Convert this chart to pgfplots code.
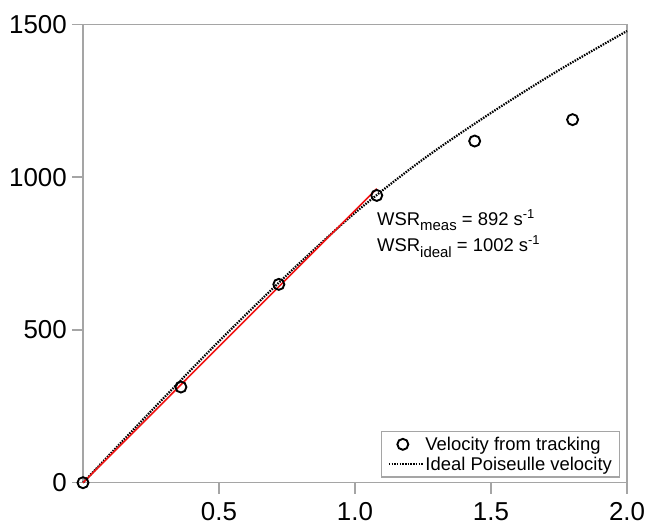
\documentclass[border=0pt]{standalone}
\usepackage{fontspec}
\setmainfont{Liberation Sans}
\usepackage{pgfplots}
\pgfplotsset{compat=1.18}
\definecolor{axgray}{RGB}{165,165,165}
\definecolor{fitred}{RGB}{240,20,20}
\newcommand{\lowtxt}[1]{\raisebox{-5.5bp}{\fontsize{15}{15}\selectfont #1}}
\newcommand{\hightxt}[1]{\raisebox{7bp}{\fontsize{13}{13}\selectfont #1}}
\pgfplotsset{
  ideal/.style={black, line width=2.2bp, dash pattern=on 1.5bp off 1.2bp,
    legend image code/.code={\draw[##1] (0bp,0bp) -- (34bp,0bp);}},
  trackmarks/.style={only marks, mark=o, mark size=5.5bp, black, line width=1.9bp,
    legend image code/.code={\path[draw=none] (0bp,0bp) -- (34bp,0bp); \path[draw=black, line width=1.9bp, solid] (14bp,0bp) circle (5.5bp);}},
}

\begin{document}
\begin{tikzpicture}
\begin{axis}[
  scale only axis, width=544bp, height=458.4bp,
  xmin=0, xmax=2.0, ymin=0, ymax=1500,
  xtick={0.5,1.0,1.5,2.0}, xticklabels={0.5,1.0,1.5,2.0},
  ytick={0,500,1000,1500},
  axis line style={axgray, line width=1.5bp},
  every tick/.style={axgray, line width=1.5bp},
  tick align=outside, major tick length=11bp,
  xtick pos=bottom, ytick pos=left,
  /pgf/number format/assume math mode=true,
  /pgf/number format/1000 sep={},
  tick label style={font=\fontsize{26}{30}\selectfont, black},
  yticklabel style={inner sep=0pt, xshift=-5bp},
  xticklabel style={inner sep=0pt, yshift=-9bp},
  clip=false,
  legend cell align=left,
  legend style={at={(1,0)}, anchor=south east, xshift=-7bp, yshift=5bp,
    draw=axgray, line width=1.2bp, font=\fontsize{18.5}{22}\selectfont,
    inner xsep=6bp, inner ysep=4bp, row sep=2bp, nodes={inner sep=1.5bp}},
]
\addplot[ideal, smooth, forget plot]
  coordinates {(0,0) (0.25,234) (0.5,463) (0.75,680) (1.0,883) (1.25,1058) (1.5,1210) (1.75,1350) (2.0,1478)};
\addplot[fitred, line width=1.6bp, forget plot] coordinates {(0,0) (1.08,962)};
\addplot[trackmarks]
  coordinates {(0,0) (0.36,313) (0.72,649) (1.08,940) (1.44,1118) (1.8,1188)};
\addlegendentry{Velocity from tracking}
\addlegendimage{ideal}
\addlegendentry{Ideal Poiseulle velocity}
\node[anchor=base west, inner sep=0pt, font=\fontsize{18.5}{22}\selectfont] at (axis cs:1.081,843) {WSR\lowtxt{meas} = 892 s\hightxt{-1}};
\node[anchor=base west, inner sep=0pt, font=\fontsize{18.5}{22}\selectfont] at (axis cs:1.081,755) {WSR\lowtxt{ideal} = 1002 s\hightxt{-1}};
\end{axis}
\pgfresetboundingbox
\path[use as bounding box] (-83bp,-42.3bp) rectangle (565bp,482.7bp);
\end{tikzpicture}
\end{document}
